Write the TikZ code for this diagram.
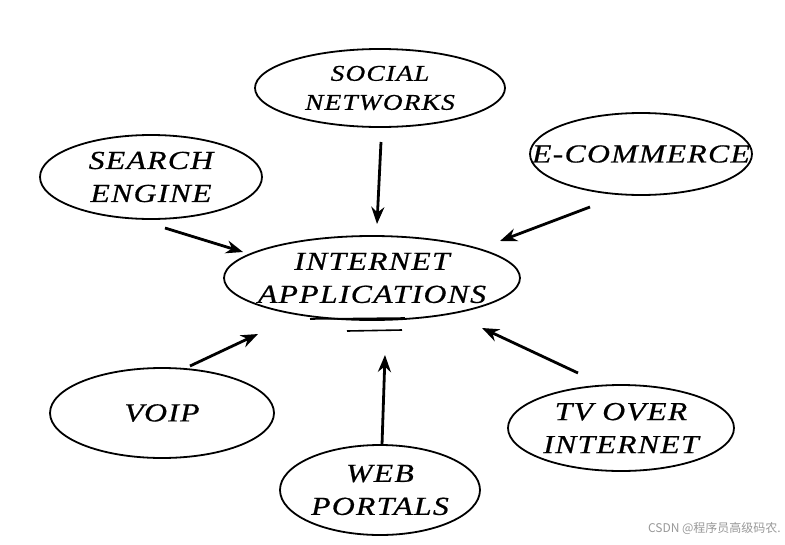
\documentclass[tikz,border=0pt]{standalone}
\usepackage{fontspec}
\setmainfont{Liberation Serif}
\newfontfamily\handfont[FakeStretch=1.22,LetterSpace=5,FakeBold=0.6]{Liberation Serif}
\newfontfamily\cjk{Noto Sans CJK SC}
\usetikzlibrary{arrows.meta,shapes.geometric}
\begin{document}
\begin{tikzpicture}[x=1pt,y=-1pt,
  bubble/.style={draw=black,line width=1.8pt,ellipse,inner sep=0pt},
  txt/.style={align=center,inner sep=0pt,
     font=\handfont\itshape\fontsize{26}{33}\selectfont},
  smalltxt/.style={txt,font=\handfont\itshape\fontsize{22.5}{29}\selectfont},
  link/.style={line width=2.8pt,-{Stealth[length=17pt,width=13pt]}}]
\useasboundingbox (0,0) rectangle (785,544);
\fill[white] (0,0) rectangle (785,544);
\node[bubble,minimum width=250pt,minimum height=78pt,label={[smalltxt]center:SOCIAL\\NETWORKS}] (social) at (380,88) {};
\node[bubble,minimum width=222pt,minimum height=84pt,label={[txt]center:SEARCH\\ENGINE}] (search) at (151,177) {};
\node[bubble,minimum width=222pt,minimum height=82pt,label={[txt]center:E-COMMERCE}] (ecom) at (641,154) {};
\node[bubble,minimum width=296pt,minimum height=84pt,label={[txt]center:INTERNET\\APPLICATIONS}] (center) at (372,278) {};
\node[bubble,minimum width=224pt,minimum height=90pt,label={[txt]center:VOIP}] (voip) at (162,413) {};
\node[bubble,minimum width=226pt,minimum height=86pt,label={[txt]center:TV OVER\\INTERNET}] (tv) at (621,428) {};
\node[bubble,minimum width=200pt,minimum height=90pt,label={[txt]center:WEB\\PORTALS}] (web) at (380,490) {};
\coordinate (c1) at (310,319);
\coordinate (c2) at (405,318);
\coordinate (c3) at (347,331);
\coordinate (c4) at (402,330);
\draw[line width=1.6pt] (c1) -- (c2);
\draw[line width=1.6pt] (c3) -- (c4);
\coordinate (a1) at (381,142); \coordinate (b1) at (377,224);
\coordinate (a2) at (165,228); \coordinate (b2) at (243,252);
\coordinate (a3) at (590,207); \coordinate (b3) at (500,241);
\coordinate (a4) at (190,366); \coordinate (b4) at (258,334);
\coordinate (a5) at (382,445); \coordinate (b5) at (385,355);
\coordinate (a6) at (578,373); \coordinate (b6) at (482,328);
\draw[link] (a1) -- (b1);
\draw[link] (a2) -- (b2);
\draw[link] (a3) -- (b3);
\draw[link] (a4) -- (b4);
\draw[link] (a5) -- (b5);
\draw[link] (a6) -- (b6);
\node[anchor=east,text=black!40,font=\cjk\fontsize{12}{14}\selectfont,inner sep=0pt] (wm) at (781,528) {CSDN @程序员高级码农.};
\end{tikzpicture}
\end{document}
